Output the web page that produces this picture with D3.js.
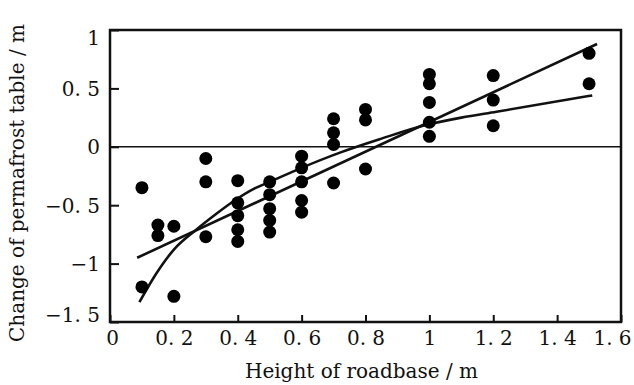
<!DOCTYPE html>
<html>
<head>
<meta charset="utf-8">
<script src="https://cdn.jsdelivr.net/npm/d3@7"></script>
<style>
    body { margin: 0; background: #fff; }
    text { font-family: "DejaVu Serif", "Liberation Serif", serif; fill: #111; }
</style>
</head>
<body>
<svg id="chart" width="634" height="385"></svg>
<script>
// Observations: height of roadbase (m) against change of permafrost table (m)
const roadbaseHeight = [
    0.1, 0.1,
    0.15, 0.15,
    0.2, 0.2,
    0.3, 0.3, 0.3,
    0.4, 0.4, 0.4, 0.4, 0.4,
    0.5, 0.5, 0.5, 0.5, 0.5,
    0.6, 0.6, 0.6, 0.6, 0.6,
    0.7, 0.7, 0.7, 0.7,
    0.8, 0.8, 0.8,
    1.0, 1.0, 1.0, 1.0, 1.0,
    1.2, 1.2, 1.2,
    1.5, 1.5
];
const permafrostChange = [
    -0.35, -1.2,
    -0.67, -0.76,
    -0.68, -1.28,
    -0.10, -0.30, -0.77,
    -0.29, -0.48, -0.59, -0.71, -0.81,
    -0.30, -0.41, -0.53, -0.63, -0.73,
    -0.08, -0.18, -0.30, -0.46, -0.56,
    0.24, 0.12, 0.02, -0.31,
    0.32, 0.23, -0.19,
    0.62, 0.54, 0.38, 0.21, 0.09,
    0.61, 0.40, 0.18,
    0.80, 0.54
];

// Fitted curve
const curveX = [0.092, 0.146, 0.2, 0.27, 0.33, 0.39, 0.45, 0.5, 0.6, 0.72, 0.85, 0.98, 1.1, 1.21, 1.51];
const curveY = [-1.33, -1.08, -0.88, -0.71, -0.58, -0.46, -0.36, -0.30, -0.18, -0.05, 0.07, 0.18, 0.25, 0.30, 0.44];

// Fitted straight line
const lineX = [0.085, 1.525];
const lineY = [-0.95, 0.88];

const xTicks = [0, 0.2, 0.4, 0.6, 0.8, 1, 1.2, 1.4, 1.6];
const yTicks = [1, 0.5, 0, -0.5, -1, -1.5];

const svg = d3.select('#chart');
const margin = { left: 110, right: 13, top: 30, bottom: 63 };
const width = +svg.attr('width');
const height = +svg.attr('height');

const x = d3.scaleLinear().domain([0, 1.6]).range([margin.left, width - margin.right]);
const y = d3.scaleLinear().domain([-1.5, 1]).range([height - margin.bottom, margin.top]);

// tick labels are typeset like "0. 5" with a long minus
const fmt = d => {
    if (d === 0) return '0';
    const s = String(Math.abs(d)).replace('.', '. ');
    return (d < 0 ? '\u2212' : '') + s;
};

// zero line
svg.append('line')
    .attr('x1', x(0)).attr('x2', x(1.6))
    .attr('y1', y(0)).attr('y2', y(0))
    .attr('stroke', '#111').attr('stroke-width', 1.5);

// x axis, ticks pointing inward
const xAxis = svg.append('g')
    .attr('transform', `translate(0,${y(-1.5)})`)
    .call(d3.axisBottom(x).tickValues(xTicks).tickFormat(fmt).tickSizeInner(-7).tickSizeOuter(0).tickPadding(9));
xAxis.select('.domain').remove();
xAxis.selectAll('line').attr('stroke', '#111').attr('stroke-width', 2);
xAxis.selectAll('text')
    .attr('font-size', 20).attr('font-family', '"DejaVu Serif", serif').attr('fill', '#111')
    .attr('dx', d => d === 1.6 ? -9 : (d === 0 ? 2 : 0));

// y axis
const yAxis = svg.append('g')
    .attr('transform', `translate(${x(0)},0)`)
    .call(d3.axisLeft(y).tickValues(yTicks).tickFormat(fmt).tickSizeInner(-9).tickSizeOuter(0).tickPadding(10));
yAxis.select('.domain').remove();
yAxis.selectAll('line').attr('stroke', '#111').attr('stroke-width', 2);
yAxis.selectAll('text')
    .attr('font-size', 20).attr('font-family', '"DejaVu Serif", serif').attr('fill', '#111')
    .attr('dy', d => d === 1 ? '0.7em' : (d === -1.5 ? '-0.05em' : '0.35em'));

// frame
svg.append('rect')
    .attr('x', x(0)).attr('y', y(1))
    .attr('width', x(1.6) - x(0)).attr('height', y(-1.5) - y(1))
    .attr('fill', 'none').attr('stroke', '#111').attr('stroke-width', 2.5);

// fitted lines
const line = d3.line().x(d => x(d[0])).y(d => y(d[1]));
svg.append('path')
    .datum(lineX.map((v, i) => [v, lineY[i]]))
    .attr('d', line)
    .attr('fill', 'none').attr('stroke', '#111').attr('stroke-width', 2.6);
svg.append('path')
    .datum(curveX.map((v, i) => [v, curveY[i]]))
    .attr('d', line.curve(d3.curveMonotoneX))
    .attr('fill', 'none').attr('stroke', '#111').attr('stroke-width', 2.6);

// observations
svg.append('g').selectAll('circle')
    .data(roadbaseHeight.map((v, i) => ({ h: v, c: permafrostChange[i] })))
    .enter()
    .append('circle')
        .attr('cx', d => x(d.h))
        .attr('cy', d => y(d.c))
        .attr('r', 6.5)
        .attr('fill', '#000');

// axis titles
svg.append('text')
    .attr('x', (x(0) + x(1.6)) / 2 - 4)
    .attr('y', 378)
    .attr('text-anchor', 'middle')
    .attr('font-size', 20)
    .text('Height of roadbase / m');

svg.append('text')
    .attr('transform', `translate(24,${(y(-1.5) + y(1)) / 2 + 7}) rotate(-90)`)
    .attr('text-anchor', 'middle')
    .attr('font-size', 20)
    .text('Change of permafrost table / m');
</script>
</body>
</html>
